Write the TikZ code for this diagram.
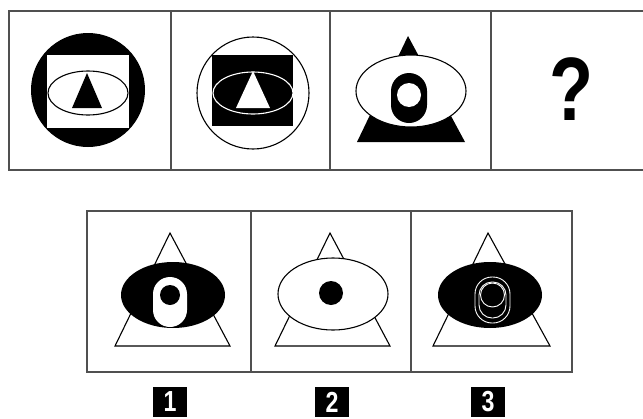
\documentclass[tikz,border=0pt]{standalone}
\usepackage{fontspec}
\setsansfont{Liberation Sans}
\usetikzlibrary{calc}
\definecolor{framegray}{RGB}{80,80,80}
\tikzset{
  frame/.style={draw=framegray, line width=1.5pt},
  outline/.style={draw=black, line width=1.1pt},
  whiteline/.style={draw=white, line width=1.1pt},
  blackshape/.style={fill=black, draw=black, line width=1.1pt},
  whiteshape/.style={fill=white, draw=black, line width=1.1pt},
  numbox/.style={rectangle, fill=black, minimum width=34pt, minimum height=30pt,
                 inner sep=0pt, text=white, font=\sffamily\bfseries\fontsize{29}{29}\selectfont}
}

\begin{document}
\begin{tikzpicture}[x=1pt, y=-1pt]
\useasboundingbox (0,0) rectangle (643,418);
% top row frame
\draw[frame] (643,11) -- (9,11) -- (9,170) -- (643,170);
\foreach \x in {171,330,491}
  \draw[frame] (\x,11) -- (\x,170);

% cell 1
\fill (88,90) circle[radius=57];
\fill[white] (47,55) rectangle (129,128);
\draw[outline] (88,93) ellipse[x radius=40, y radius=22];
\fill (87,73) -- (102,108) -- (72,108) -- cycle;

% cell 2
\draw[outline] (253,93) circle[radius=56];
\fill (212,55) rectangle (293,126);
\draw[whiteline] (253,93) ellipse[x radius=40, y radius=21];
\fill[white] (253,71) -- (270,108) -- (236,108) -- cycle;

% cell 3
\fill (408,36) -- (465,142) -- (357,142) -- cycle;
\draw[whiteshape] (411,91) ellipse[x radius=55, y radius=36];
\fill[rounded corners=18pt] (391,73) rectangle (427,123);
\fill[white] (409,95) circle[radius=12];

% cell 4
\node (qmark) at (571,89) {\scalebox{0.8}[1]{\sffamily\bfseries\fontsize{90}{90}\selectfont ?}};

% answer row frame
\draw[frame] (87,211) rectangle (572,372);
\foreach \x in {251,411}
  \draw[frame] (\x,211) -- (\x,372);

% answer 1
\draw[whiteshape] (170,233) -- (230,346) -- (115,346) -- cycle;
\fill (173,295) ellipse[x radius=52, y radius=33];
\fill[white, rounded corners=17pt] (153,277) rectangle (187,327);
\fill (170,295) circle[radius=10];

% answer 2
\draw[whiteshape] (330,233) -- (390,346) -- (275,346) -- cycle;
\draw[whiteshape] (333,294) ellipse[x radius=55, y radius=36];
\fill (331,293) circle[radius=12];

% answer 3
\draw[whiteshape] (488,233) -- (550,346) -- (433,346) -- cycle;
\fill (490,295) ellipse[x radius=52, y radius=33];
\draw[whiteline, line width=0.9pt, rounded corners=17pt] (475,277) rectangle (510,323);
\draw[whiteline, line width=0.9pt, rounded corners=13pt] (479,282) rectangle (506,318);
\draw[whiteline, line width=0.9pt] (492.5,295) circle[radius=12];

% labels
\foreach \n/\x in {1/170,2/332,3/488}
  \node[numbox] (lab\n) at (\x,402) {\scalebox{0.8}[1]{\n}};
\end{tikzpicture}
\end{document}
